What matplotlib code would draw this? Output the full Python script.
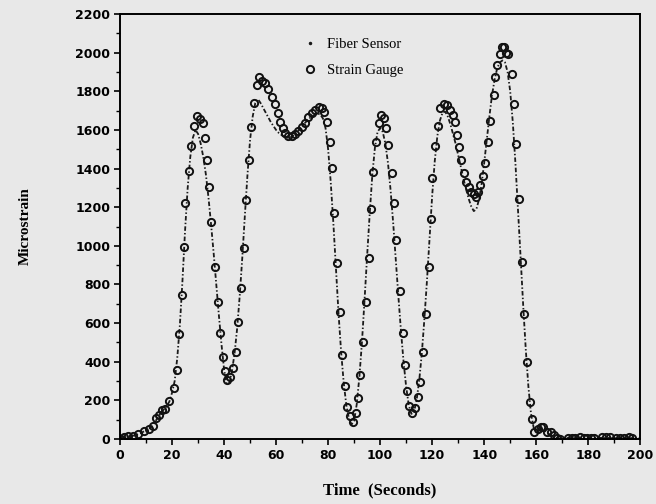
import numpy as np
import matplotlib.pyplot as plt
from matplotlib.ticker import MultipleLocator

# fiber sensor (0..200 s)
fiber_t = np.arange(0, 201)
fiber_v = [
    5, 8, 10, 12, 14, 17, 20, 25, 30, 38,
    45, 52, 62, 80, 100, 120, 140, 155, 170, 195,
    240, 300, 420, 590, 820, 1080, 1300, 1460, 1560, 1600,
    1580, 1530, 1460, 1370, 1250, 1110, 960, 800, 640, 490,
    360, 285, 290, 350, 440, 570, 740, 940, 1160, 1370,
    1550, 1670, 1740, 1760, 1740, 1715, 1690, 1665, 1640, 1620,
    1600, 1585, 1575, 1565, 1560, 1560, 1565, 1575, 1590, 1605,
    1620, 1635, 1650, 1662, 1672, 1680, 1685, 1680, 1660, 1610,
    1500, 1330, 1120, 880, 650, 450, 290, 175, 105, 75,
    95, 180, 320, 500, 720, 950, 1170, 1370, 1510, 1590,
    1610, 1590, 1530, 1430, 1290, 1120, 930, 740, 560, 400,
    270, 175, 130, 140, 200, 300, 440, 620, 820, 1040,
    1260, 1440, 1570, 1650, 1690, 1695, 1670, 1630, 1580, 1530,
    1470, 1410, 1350, 1295, 1245, 1205, 1180, 1190, 1240, 1320,
    1430, 1550, 1670, 1780, 1860, 1920, 1950, 1960, 1950, 1900,
    1800, 1640, 1430, 1190, 940, 690, 460, 270, 130, 60,
    40, 45, 50, 45, 35, 25, 15, 8, 5, 3,
    3, 4, 5, 5, 6, 5, 4, 3, 4, 5,
    6, 5, 4, 4, 5, 6, 7, 6, 5, 4,
    4, 5, 6, 5, 4, 3, 4, 5, 6, 5,
    4,
]

# strain gauge readings (time s, microstrain)
gauge_t = [
    0.3, 1.5, 3.2, 5.1, 7.0, 9.4, 11.3, 12.8, 13.8, 15.1,
    16.2, 17.3, 19.0, 20.8, 21.8, 22.8, 23.8, 24.4, 25.1, 26.4,
    27.4, 28.3, 29.5, 30.8, 31.7, 32.7, 33.6, 34.3, 35.1, 36.5,
    37.6, 38.6, 39.5, 40.4, 41.0, 42.3, 43.3, 44.5, 45.5, 46.4,
    47.7, 48.5, 49.5, 50.4, 51.5, 52.6, 53.5, 54.5, 55.8, 57.0,
    58.3, 59.4, 60.6, 61.5, 62.6, 63.5, 64.7, 66.0, 67.3, 68.6,
    69.9, 71.2, 72.4, 73.7, 75.0, 76.3, 77.6, 78.6, 79.7, 80.8,
    81.4, 82.3, 83.3, 84.4, 85.5, 86.5, 87.4, 88.5, 89.7, 90.8,
    91.3, 92.3, 93.3, 94.5, 95.6, 96.4, 97.4, 98.5, 99.4, 100.3,
    101.3, 102.3, 103.2, 104.5, 105.5, 106.2, 107.7, 108.7, 109.6, 110.3,
    111.2, 112.2, 113.3, 114.4, 115.4, 116.4, 117.6, 118.8, 119.6, 120.1,
    121.2, 122.2, 123.1, 124.4, 125.6, 126.9, 128.0, 128.8, 129.5, 130.4,
    131.2, 132.3, 133.1, 134.0, 134.9, 135.9, 136.8, 137.8, 138.5, 139.4,
    140.4, 141.3, 142.3, 143.6, 144.2, 145.1, 146.2, 147.0, 147.8, 148.5,
    149.3, 150.6, 151.3, 152.3, 153.2, 154.5, 155.4, 156.4, 157.7, 158.3,
    159.2, 160.5, 161.8, 162.8, 164.1, 165.7, 166.7, 168.0, 169.2, 172.4,
    173.7, 175.0, 176.7, 178.2, 179.5, 181.0, 182.1, 185.3, 187.0, 188.5,
    190.5, 192.4, 193.7, 195.6, 196.9,
]
gauge_v = [
    0, 8, 14, 16, 26, 41, 53, 67, 107, 124,
    150, 154, 198, 262, 357, 543, 745, 995, 1220, 1389,
    1517, 1620, 1672, 1655, 1634, 1556, 1444, 1303, 1125, 892,
    711, 547, 426, 354, 305, 322, 366, 452, 607, 780,
    987, 1237, 1444, 1613, 1741, 1832, 1875, 1855, 1844, 1810,
    1772, 1734, 1686, 1642, 1608, 1582, 1568, 1568, 1579, 1596,
    1616, 1637, 1665, 1689, 1706, 1720, 1716, 1694, 1642, 1539,
    1401, 1171, 909, 659, 435, 274, 167, 119, 90, 136,
    211, 331, 504, 711, 935, 1189, 1384, 1539, 1634, 1677,
    1660, 1608, 1522, 1375, 1220, 1032, 768, 550, 383, 250,
    171, 136, 159, 216, 297, 452, 647, 892, 1137, 1349,
    1517, 1620, 1712, 1734, 1729, 1703, 1677, 1642, 1573, 1513,
    1444, 1378, 1332, 1306, 1280, 1268, 1254, 1280, 1315, 1361,
    1430, 1539, 1648, 1780, 1872, 1936, 1996, 2030, 2030, 1999,
    1996, 1892, 1737, 1527, 1241, 918, 647, 397, 193, 102,
    38, 52, 64, 60, 38, 38, 21, 4, 0, 3,
    5, 5, 8, 3, 3, 3, 5, 8, 8, 8,
    5, 3, 5, 8, 3,
]

bg = '#e8e8e8'
fig = plt.figure(figsize=(6.56, 5.04), dpi=100, facecolor=bg)
ax = fig.add_axes([0.183, 0.129, 0.793, 0.843])
ax.set_facecolor(bg)

ax.plot(fiber_t, fiber_v, color='#1a1a1a', lw=1.3,
        linestyle=(0, (2.5, 1.2, 0.8, 1.2)), label='Fiber Sensor')
ax.plot(gauge_t, gauge_v, linestyle='none', marker='o', ms=5.2,
        mfc='none', mec='#111111', mew=1.4, label='Strain Gauge')

ax.set_xlim(0, 200)
ax.set_ylim(0, 2200)
ax.xaxis.set_major_locator(MultipleLocator(20))
ax.xaxis.set_minor_locator(MultipleLocator(10))
ax.yaxis.set_major_locator(MultipleLocator(200))
ax.yaxis.set_minor_locator(MultipleLocator(100))
ax.tick_params(which='major', direction='out', length=4, width=1.2,
               labelsize=9, pad=3)
ax.tick_params(which='minor', direction='out', length=3, width=1.0)
for lab in ax.get_xticklabels() + ax.get_yticklabels():
    lab.set_fontfamily('DejaVu Sans')
    lab.set_fontweight('bold')
for sp in ax.spines.values():
    sp.set_linewidth(1.4)

serif = 'Liberation Serif'
ax.set_xlabel('Time  (Seconds)', fontfamily=serif, fontweight='bold',
              fontsize=12, labelpad=15)
ax.set_ylabel('Microstrain', fontfamily=serif, fontweight='bold',
              fontsize=11, labelpad=31)

leg = ax.legend(loc='upper left', bbox_to_anchor=(0.325, 0.975), frameon=False,
                prop={'family': serif, 'size': 10.5}, handlelength=1.0,
                handletextpad=0.7, labelspacing=0.85, markerscale=1.0)
leg.legend_handles[0].set_linestyle('none')
leg.legend_handles[0].set_marker('.')
leg.legend_handles[0].set_markersize(3)

fig.savefig('out.png', dpi=100, facecolor=bg)
